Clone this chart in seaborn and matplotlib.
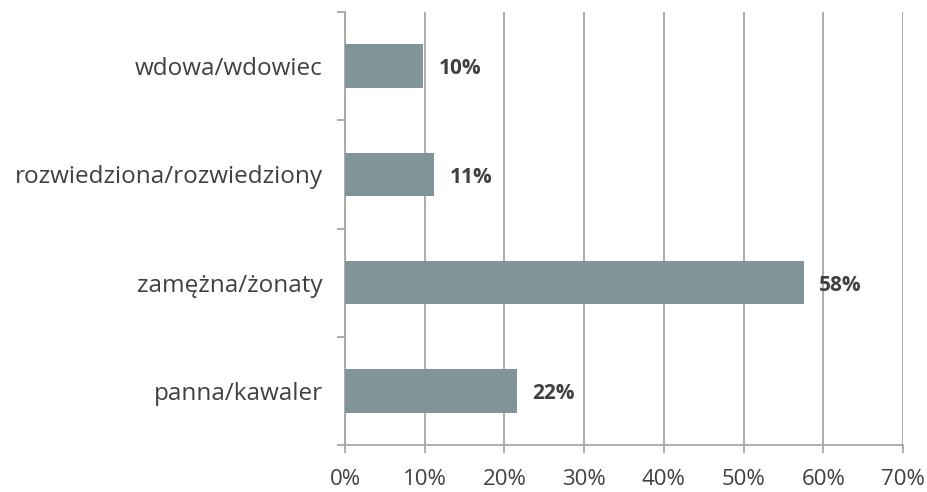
import numpy as np
import pandas as pd
import matplotlib
matplotlib.use('Agg')
import matplotlib.pyplot as plt
from matplotlib.ticker import FixedLocator, PercentFormatter
import seaborn as sns

categories = ['wdowa/wdowiec', 'rozwiedziona/rozwiedziony', 'zamężna/żonaty', 'panna/kawaler']
values = [9.8, 11.2, 57.6, 21.6]
labels = ['10%', '11%', '58%', '22%']
x_ticks = [0, 10, 20, 30, 40, 50, 60, 70]

sns.set_theme(style='white')
plt.rcParams['font.family'] = ['Open Sans', 'DejaVu Sans']

data = pd.DataFrame({'category': categories, 'value': values})

fig = plt.figure(figsize=(9.28, 4.92), dpi=100)
ax = fig.add_axes([0.3718, 0.0955, 0.973 - 0.3718, 0.9756 - 0.0955])

grid_color = '#a6a6a6'
text_color = '#404040'

sns.barplot(data=data, x='value', y='category', orient='h', color='#7f9598',
            width=0.4, saturation=1, ax=ax, zorder=3, edgecolor='none')

ax.set_xlim(0, 70)
ax.set_ylim(len(categories) - 0.5, -0.5)
ax.xaxis.set_major_locator(FixedLocator(x_ticks))
ax.xaxis.set_major_formatter(PercentFormatter(decimals=0))
ax.grid(axis='x', color=grid_color, linewidth=1.3, zorder=0)
ax.set_axisbelow(True)

# y ticks at category boundaries
ax.yaxis.set_minor_locator(FixedLocator(np.arange(-0.5, len(categories), 1)))
ax.tick_params(axis='y', which='major', length=0, labelsize=17.5, labelcolor=text_color, pad=16)
ax.tick_params(axis='y', which='minor', length=6, width=1.3, color=grid_color, left=True)
ax.tick_params(axis='x', which='major', length=6, width=1.3, color=grid_color, bottom=True,
               labelsize=16, labelcolor=text_color, pad=11)

for side in ['top', 'right']:
    ax.spines[side].set_visible(False)
for side in ['left', 'bottom']:
    ax.spines[side].set_color(grid_color)
    ax.spines[side].set_linewidth(1.3)

ax.set_xlabel('')
ax.set_ylabel('')

for i, (v, lab) in enumerate(zip(values, labels)):
    ax.annotate(lab, (v, i), xytext=(11, -2), textcoords='offset points',
                ha='left', va='center', fontsize=15, fontweight='bold', color=text_color)

fig.savefig('out.png', dpi=100)
